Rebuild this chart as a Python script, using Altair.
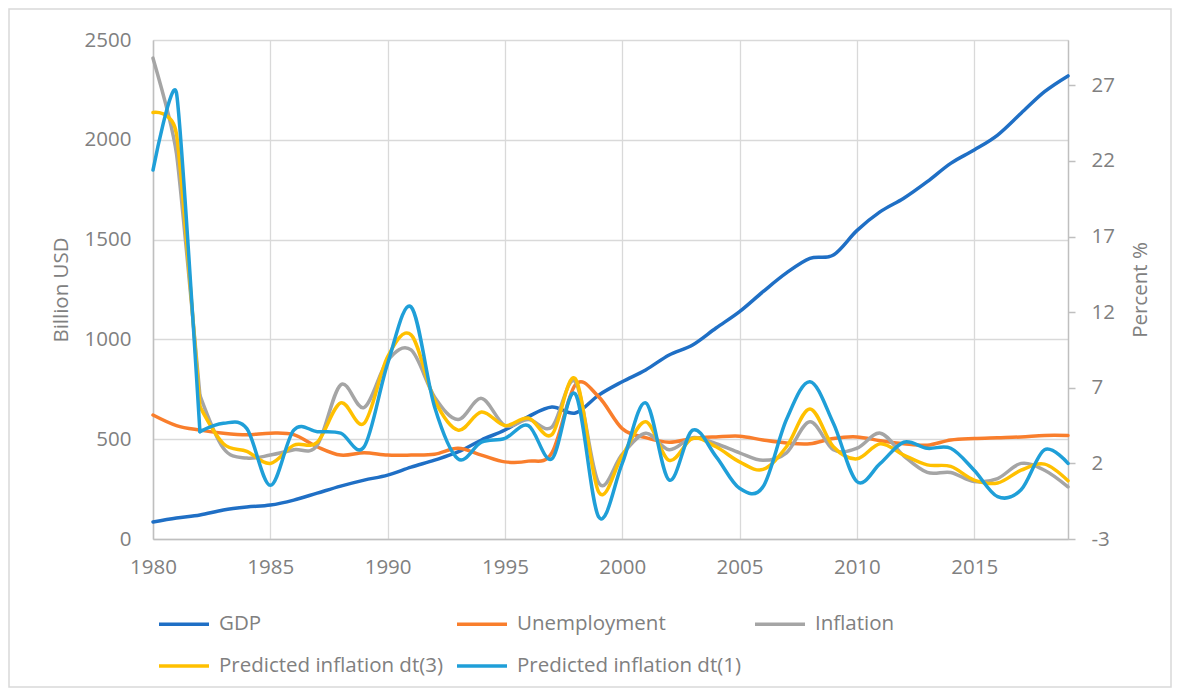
import altair as alt
import pandas as pd

years = list(range(1980, 2020))

gdp = [85, 105, 120, 145, 160, 170, 195, 230, 265, 295,
       320, 360, 395, 436, 496, 546, 613, 661, 631, 721,
       788, 847, 922, 972, 1057, 1139, 1239, 1333, 1406, 1423,
       1545, 1640, 1707, 1790, 1882, 1949, 2024, 2133, 2241, 2320]

unemployment = [5.2, 4.5, 4.2, 4.0, 3.9, 4.0, 3.9, 3.1, 2.55, 2.7,
                2.55, 2.55, 2.6, 3.0, 2.55, 2.1, 2.15, 2.7, 7.2, 6.4,
                4.3, 3.7, 3.4, 3.65, 3.75, 3.8, 3.55, 3.35, 3.3, 3.65,
                3.75, 3.5, 3.3, 3.2, 3.55, 3.65, 3.7, 3.75, 3.85, 3.85]

inflation = [28.8, 22.5, 6.5, 3.0, 2.35, 2.55, 2.9, 3.2, 7.2, 5.7,
             8.8, 9.5, 6.4, 4.9, 6.3, 4.5, 4.9, 4.4, 7.4, 0.7,
             2.6, 4.0, 2.9, 3.7, 3.3, 2.7, 2.2, 2.7, 4.75, 2.9,
             3.0, 4.0, 2.5, 1.4, 1.4, 0.8, 1.0, 2.0, 1.55, 0.45]

pred_dt3 = [25.2, 23.8, 5.75, 3.3, 2.8, 2.0, 3.2, 3.4, 6.0, 4.65,
            9.05, 10.5, 6.2, 4.2, 5.4, 4.5, 5.0, 3.9, 7.6, 0.1,
            2.5, 4.75, 2.2, 3.65, 3.1, 2.1, 1.6, 3.1, 5.6, 3.1,
            2.3, 3.3, 2.55, 1.9, 1.8, 0.9, 0.7, 1.55, 1.95, 0.85]

pred_dt1 = [21.4, 26.5, 4.1, 4.65, 4.3, 0.55, 4.2, 4.1, 4.0, 3.1,
            8.6, 12.35, 5.75, 2.3, 3.4, 3.65, 4.5, 2.3, 6.6, -1.55,
            2.0, 6.0, 0.9, 4.2, 2.45, 0.35, 0.45, 4.9, 7.4, 4.65,
            0.8, 2.0, 3.4, 3.0, 3.0, 1.55, -0.2, 0.25, 2.9, 2.0]

series_names = ["GDP", "Unemployment", "Inflation",
                "Predicted inflation dt(3)", "Predicted inflation dt(1)"]
series_colors = ["#1F6FC5", "#F97E2C", "#A5A5A5", "#FFC000", "#1F9FD8"]

left_ticks = [0, 500, 1000, 1500, 2000, 2500]
right_ticks = [-3, 2, 7, 12, 17, 22, 27]
x_ticks = [1980, 1985, 1990, 1995, 2000, 2005, 2010, 2015]

FONT = "Open Sans"
FS = 20.5
TEXT = "#808080"
GRID = "#D9D9D9"
AXIS = "#BFBFBF"

W, H = 915, 499
PAD_L, PAD_T = 145, 32
TOTAL_W, TOTAL_H = 1164, 680
SPLIT = 2  # index of 1982: the steep 1980-82 drop is smoothed more tightly

gdp_df = pd.DataFrame({"year": years, "value": gdp, "series": "GDP"})
pct_values = {"Unemployment": unemployment, "Inflation": inflation,
              "Predicted inflation dt(3)": pred_dt3,
              "Predicted inflation dt(1)": pred_dt1}

color = alt.Color(
    "series:N",
    scale=alt.Scale(domain=series_names, range=series_colors),
    legend=alt.Legend(
        title=None, orient="none", legendX=4, legendY=557,
        direction="horizontal", columns=3,
        symbolType="stroke", symbolSize=2500, symbolStrokeWidth=3.5,
        labelFont=FONT, labelFontSize=FS, labelColor=TEXT, labelOffset=8,
        columnPadding=6, rowPadding=4, labelLimit=400,
    ),
)

x_enc = alt.X(
    "year:Q",
    scale=alt.Scale(domain=[1980, 2019], nice=False, zero=False),
    axis=alt.Axis(values=x_ticks, format="d", title=None, grid=True,
                  gridColor=GRID, gridWidth=1.3, domainColor=AXIS, domainWidth=1.5,
                  ticks=False, labelPadding=18, labelFont=FONT, labelFlush=False,
                  labelFontSize=FS, labelColor=TEXT),
)

y_right = alt.Y(
    "value:Q",
    scale=alt.Scale(domain=[-3, 30], nice=False, zero=False),
    axis=alt.Axis(orient="right", title="Percent %",
                  values=right_ticks, grid=False, ticks=True,
                  labelExpr="datum.value < 0 ? '-' + abs(datum.value) : '' + datum.value",
                  tickSize=7, tickColor=AXIS, tickWidth=1.5,
                  domainColor=AXIS, domainWidth=1.5,
                  labelPadding=16, labelFont=FONT,
                  labelFontSize=FS, labelColor=TEXT,
                  titleFont=FONT, titleFontSize=FS,
                  titleColor=TEXT, titleFontWeight="normal",
                  titleAngle=270, titleAlign="center",
                  titleBaseline="middle",
                  titleX=72, titleY=H / 2),
)

frame = alt.Chart(pd.DataFrame({"k": [0]})).mark_rect(
    fill=None, stroke="#D9D9D9", strokeWidth=1.5
).encode(
    x=alt.value(-PAD_L + 1), x2=alt.value(TOTAL_W - PAD_L - 1),
    y=alt.value(-PAD_T + 1), y2=alt.value(TOTAL_H - PAD_T - 1),
)

gdp_line = alt.Chart(gdp_df).mark_line(
    interpolate="cardinal", strokeWidth=3.5, strokeCap="round"
).encode(
    x=x_enc,
    y=alt.Y("value:Q", scale=alt.Scale(domain=[0, 2500], nice=False),
            axis=alt.Axis(title="Billion USD", values=left_ticks, format="d",
                          grid=True, gridColor=GRID, gridWidth=1.3, ticks=False,
                          domainColor=AXIS, domainWidth=1.5, labelPadding=22,
                          labelFont=FONT, labelFontSize=FS, labelColor=TEXT,
                          titleFont=FONT, titleFontSize=FS, titleColor=TEXT,
                          titleFontWeight="normal", titleAngle=270,
                          titleAlign="center", titleBaseline="middle",
                          titleX=-92, titleY=H / 2)),
    color=color,
)


def line(df, tension):
    return alt.Chart(df).mark_line(
        interpolate="cardinal", tension=tension, strokeWidth=3.5,
        strokeCap="round", strokeJoin="round"
    ).encode(x=x_enc, y=y_right, color=color)


pct_layers = []
for name in series_names[1:]:
    vals = pct_values[name]
    if name == "Unemployment":
        df = pd.DataFrame({"year": years, "value": vals, "series": name})
        pct_layers.append(line(df, 0))
    else:
        head = pd.DataFrame({"year": years[:SPLIT + 1], "value": vals[:SPLIT + 1],
                             "series": name})
        tail = pd.DataFrame({"year": years[SPLIT:], "value": vals[SPLIT:],
                             "series": name})
        pct_layers.append(line(head, 0.5))
        pct_layers.append(line(tail, 0))

pct = alt.layer(*pct_layers)

chart = alt.layer(frame, gdp_line, pct).resolve_scale(
    y="independent"
).properties(
    width=W, height=H,
    autosize=alt.AutoSizeParams(type="none"),
    padding={"left": PAD_L, "top": PAD_T,
             "right": TOTAL_W - PAD_L - W, "bottom": TOTAL_H - PAD_T - H},
).configure_view(stroke=None).configure(background="white")

chart.save("out.html", embed_options={"renderer": "svg", "actions": False})
